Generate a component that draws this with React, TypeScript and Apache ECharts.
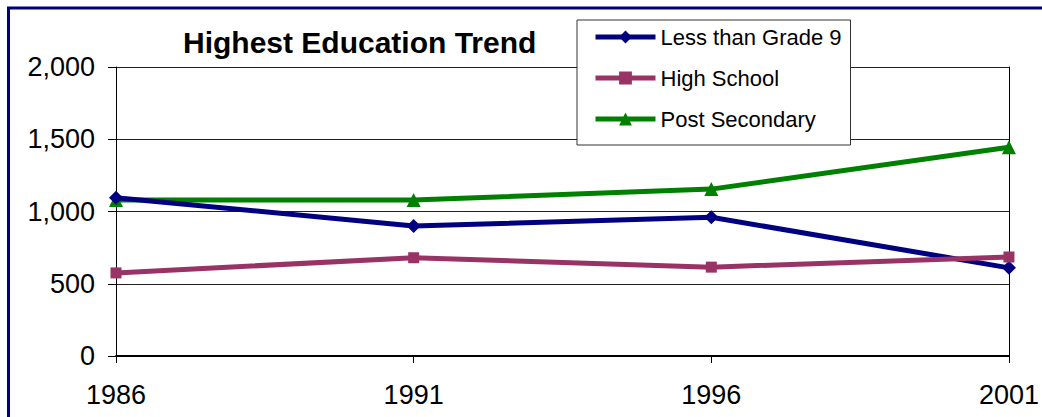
import React, { useEffect, useRef } from "react";
import * as echarts from "echarts";

const years = ["1986", "1991", "1996", "2001"];
const lessThanGrade9 = [1095, 900, 960, 610];
const highSchool = [575, 680, 615, 685];
const postSecondary = [1080, 1080, 1155, 1445];
const seriesNames = ["Less than Grade 9", "High School", "Post Secondary"];
const titleText = "Highest Education Trend";

const FONT = "'Liberation Sans', Arial, sans-serif";

export default function App() {
  const ref = useRef<HTMLDivElement>(null);
  useEffect(() => {
    document.body.style.margin = "0";
    document.body.style.overflow = "hidden";
    if (!ref.current) return;
    const chart = echarts.init(ref.current, null, { renderer: "svg" });
    const option = {
      animation: false,
      backgroundColor: "#ffffff",
      title: {
        text: titleText,
        left: 183,
        top: 27,
        padding: 0,
        textStyle: { fontFamily: FONT, fontSize: 30, fontWeight: "bold", color: "#000" },
      },
      legend: {
        orient: "vertical",
        left: 577,
        top: 20,
        padding: [6, 9, 15, 16],
        itemWidth: 60,
        itemHeight: 16,
        itemGap: 19,
        backgroundColor: "#ffffff",
        borderColor: "#333333",
        borderWidth: 1,
        lineStyle: { width: 5 },
        textStyle: { fontFamily: FONT, fontSize: 22, color: "#000", lineHeight: 22 },
        data: seriesNames,
      },
      grid: { left: 116, right: 29, top: 67, bottom: 61, containLabel: false },
      xAxis: {
        type: "category",
        data: years,
        boundaryGap: false,
        axisLine: { show: true, lineStyle: { color: "#000", width: 2 } },
        axisTick: { show: true, length: 7, lineStyle: { color: "#000", width: 1 } },
        axisLabel: { fontFamily: FONT, fontSize: 27, color: "#000", margin: 25 },
        splitLine: { show: false },
      },
      yAxis: [
        {
          type: "value",
          min: 0,
          max: 2000,
          interval: 500,
          axisLine: { show: true, lineStyle: { color: "#000", width: 1 } },
          axisTick: { show: true, length: 8, lineStyle: { color: "#000", width: 1 } },
          axisLabel: {
            fontFamily: FONT,
            fontSize: 27,
            color: "#000",
            margin: 21,
            formatter: (v: number) => v.toLocaleString("en-US"),
          },
          splitLine: { show: true, lineStyle: { color: "#222", width: 1 } },
        },
        {
          type: "value",
          position: "right",
          min: 0,
          max: 2000,
          interval: 500,
          axisLine: { show: true, lineStyle: { color: "#000", width: 1 } },
          axisTick: { show: false },
          axisLabel: { show: false },
          splitLine: { show: false },
        },
      ],
      series: [
        {
          name: seriesNames[0],
          type: "line",
          data: lessThanGrade9,
          symbol: "diamond",
          symbolSize: 14,
          lineStyle: { color: "#000080", width: 5 },
          itemStyle: { color: "#000080" },
          z: 4,
        },
        {
          name: seriesNames[1],
          type: "line",
          data: highSchool,
          symbol: "rect",
          symbolSize: 11,
          lineStyle: { color: "#993366", width: 5 },
          itemStyle: { color: "#993366" },
          z: 5,
        },
        {
          name: seriesNames[2],
          type: "line",
          data: postSecondary,
          symbol: "triangle",
          symbolSize: 14,
          lineStyle: { color: "#008000", width: 5 },
          itemStyle: { color: "#008000" },
          z: 3,
        },
      ],
      graphic: [
        {
          type: "rect",
          shape: { x: 8.5, y: 8, width: 1100, height: 500 },
          style: { fill: "none", stroke: "#000080", lineWidth: 3 },
          silent: true,
          z: 100,
        },
      ],
    };
    chart.setOption(option);
    return () => chart.dispose();
  }, []);
  return (
    <div
      ref={ref}
      style={{ position: "fixed", left: 0, top: 0, width: 1042, height: 417 }}
    />
  );
}
